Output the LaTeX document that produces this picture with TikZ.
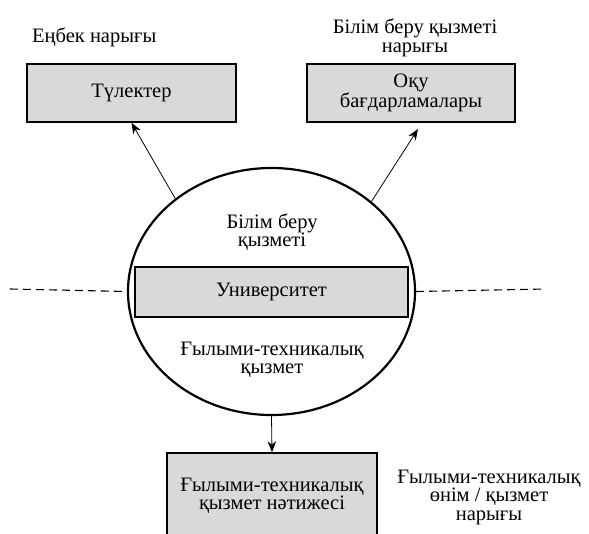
\documentclass[tikz,border=0pt]{standalone}
\usepackage{fontspec}
\setmainfont{Liberation Serif}
\usetikzlibrary{shapes.geometric,arrows.meta}
\begin{document}
\begin{tikzpicture}[x=1pt,y=-1pt,
  every node/.style={font=\fontsize{20.5}{18.5}\selectfont, align=center, inner sep=0},
  graybox/.style={draw, line width=1.5pt, fill=black!15, inner sep=0},
  arr/.style={line width=0.8pt, -{Stealth[length=11pt,width=8.5pt]}},
  dash line/.style={line width=1.1pt, dash pattern=on 8pt off 5pt}]
\useasboundingbox (0,0) rectangle (589,533);
\clip (0,0) rectangle (589,533);
\fill[white] (0,0) rectangle (589,533);
% top labels
\node[anchor=west] (lab1) at (32,37) {Еңбек нарығы};
\node (lab2) at (415,38) {Білім беру қызметі\\нарығы};
% top boxes
\node[graybox, minimum width=209, minimum height=58] (tul) at (131.5,93) {Түлектер};
\node[graybox, minimum width=208, minimum height=58] (oku) at (411,93) {Оқу\\бағдарламалары};
% ellipse
\node[ellipse, draw, line width=2.2pt, minimum width=287, minimum height=247] (ell) at (271.5,291.5) {};
\node[graybox, minimum width=273, minimum height=50] (uni) at (271.5,292) {Университет};
\node (edu) at (272,232) {Білім беру\\қызметі};
\node (sci) at (272,360) {Ғылыми-техникалық\\қызмет};
% dashed lines
\coordinate (dl) at (10,289);
\coordinate (dr) at (546,289);
\draw[dash line] (dl) -- (ell.west);
\draw[dash line] (ell.east) -- (dr);
% bottom box and label
\node[graybox, minimum width=210, minimum height=86] (res) at (272,496) {Ғылыми-техникалық\\қызмет нәтижесі};
\node (lab3) at (489,497) {Ғылыми-техникалық\\өнім / қызмет\\нарығы};
% arrows
\coordinate (okutip) at (418,129);
\draw[arr] (ell.136) -- (tul.south);
\draw[arr] (ell.42) -- (okutip);
\draw[arr] (ell.south) -- (res.north);
\end{tikzpicture}
\end{document}
